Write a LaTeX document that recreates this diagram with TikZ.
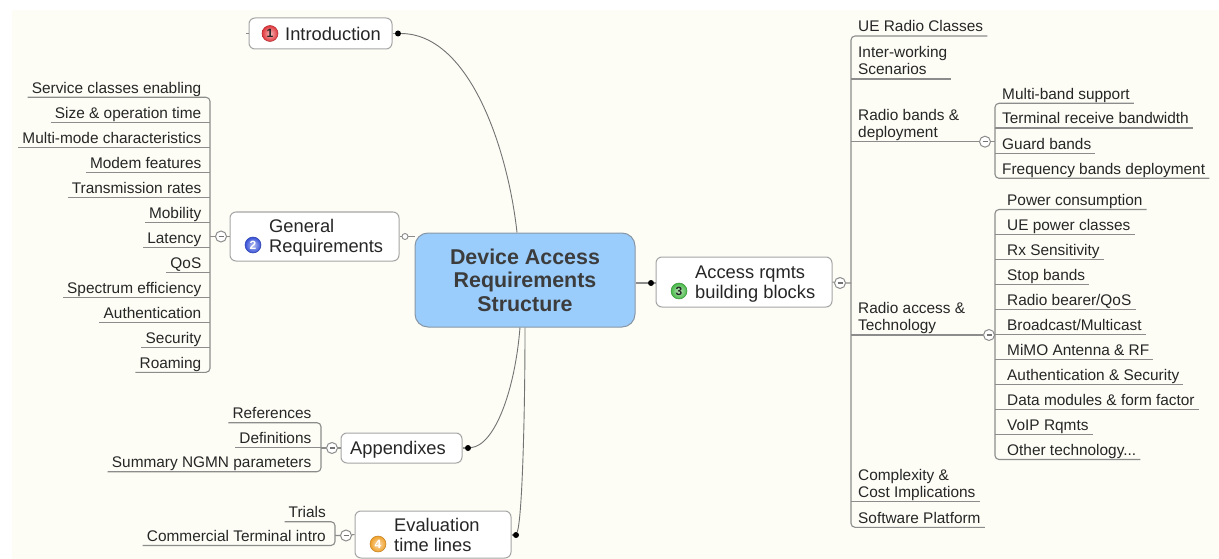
\documentclass[tikz,border=0pt]{standalone}
\usepackage{fontspec}
\setmainfont{Liberation Sans}
\definecolor{paper}{RGB}{253,253,246}
\definecolor{rootblue}{RGB}{155,205,252}
\definecolor{rootedge}{RGB}{135,150,165}
\definecolor{boxgray}{RGB}{165,165,165}
\definecolor{linegray}{RGB}{140,140,140}
\definecolor{curvegray}{RGB}{115,115,115}
\definecolor{textgray}{RGB}{38,38,38}
\definecolor{roottext}{RGB}{60,60,60}
\definecolor{iconred}{RGB}{225,55,60}
\definecolor{iconblue}{RGB}{55,80,215}
\definecolor{icongreen}{RGB}{70,185,70}
\definecolor{iconorange}{RGB}{240,160,40}

\tikzset{
  root/.style={draw=rootedge, fill=rootblue, line width=1pt, rounded corners=13pt, minimum width=220pt, minimum height=94pt, align=center, text=roottext, font=\fontsize{21.4}{23.5}\selectfont\bfseries},
  topic/.style={draw=boxgray, fill=white, line width=1pt, rounded corners=6pt},
  toptext/.style={inner sep=0pt, text depth=4pt, align=left, text=textgray, font=\fontsize{18.3}{20}\selectfont},
  item/.style={inner xsep=4pt, inner ysep=0pt, text depth=4pt, align=left, text=textgray, font=\fontsize{15.4}{17}\selectfont},
  branch/.style={draw=linegray, line width=1.1pt},
  curve/.style={draw=curvegray, line width=0.9pt},
  knob/.style={circle, fill=black, minimum size=6pt, inner sep=0pt},
  opendot/.style={circle, draw=linegray, fill=white, line width=0.9pt, minimum size=6pt, inner sep=0pt},
  fold/.style={circle, draw=linegray, fill=white, line width=1pt, minimum size=11pt, inner sep=0pt,
    path picture={\draw[black!55, line width=1.3pt] ([xshift=-2.5pt]path picture bounding box.center) -- ([xshift=2.5pt]path picture bounding box.center);}},
  numicon/.style={circle, shading=radial, inner color=#1!35!white, outer color=#1, draw=#1!80!black, line width=0.5pt, minimum size=16pt, inner sep=0pt, font=\fontsize{12}{12}\selectfont\bfseries}
}

\begin{document}
\begin{tikzpicture}[x=1pt, y=-1pt]
\fill[white] (0,0) rectangle (1219,559);
\fill[paper] (12,10) rectangle (1219,559);
\useasboundingbox (0,0) rectangle (1219,559);

% central topic
\node[root] (root) at (525,280) {Device Access\\Requirements\\Structure};

% main topics
\node[topic, minimum width=143pt, minimum height=31pt] (intro) at (320.5,33.5) {};
\node[toptext, anchor=south west] (introtxt) at (285,44.7) {Introduction};
\node[numicon=iconred, text=black!85] (n1) at (270,33.5) {1};
\node[topic, minimum width=169pt, minimum height=49pt] (gr) at (314.5,236.5) {};
\node[toptext, anchor=south west] (grtxt) at (269,256.3) {General\\Requirements};
\node[numicon=iconblue, text=white] (n2) at (253,245) {2};
\node[topic, minimum width=176pt, minimum height=50pt] (access) at (744,282) {};
\node[toptext, anchor=south west] (accesstxt) at (695,302.3) {Access rqmts\\building blocks};
\node[numicon=icongreen, text=black!85] (n3) at (679,291) {3};
\node[topic, minimum width=121pt, minimum height=30pt] (app) at (401.5,448) {};
\node[toptext, anchor=south west] (apptxt) at (350,458.3) {Appendixes};
\node[topic, minimum width=156pt, minimum height=47pt] (eval) at (433,534.5) {};
\node[toptext, anchor=south west] (evaltxt) at (394,555.7) {Evaluation\\time lines};
\node[numicon=iconorange, text=white] (n4) at (378,544) {4};

% joints
\node[knob] (k1) at (398,33.5) {};
\node[knob] (k3) at (651,283) {};
\node[knob] (kapp) at (468,448) {};
\node[knob] (keval) at (516,535) {};
\node[opendot] (kgr) at (405,236.5) {};

\draw[branch] (intro.east) -- (k1);
\draw[branch] (intro.west) -- ++(-3,0);
\draw[curve] (k1) .. controls (470,34) and (508,150) .. ([xshift=-8pt]root.north);
\draw[branch] (gr.east) -- (kgr) -- (kgr -| root.west);
\draw[branch] (root.east |- k3) -- (k3) -- (k3 -| access.west);
\draw[branch] (app.east) -- (kapp);
\draw[curve] (kapp) .. controls (495,445) and (515,390) .. ([xshift=-5pt]root.south);
\draw[branch] (eval.east |- keval) -- (keval);
\draw[curve] (keval) .. controls (522,520) and (525,420) .. (root.south);

% bracket lines
\coordinate (grbar) at (210,0);
\coordinate (appbar) at (321,0);
\coordinate (evbar) at (335,0);
\coordinate (acbar) at (851,0);
\coordinate (subbar) at (995,0);

% general requirements
\node[fold] (fgr) at (221,236.5) {};
\draw[branch] (gr.west) -- (fgr) -- (fgr -| grbar);
\node[item, anchor=south east] (gr1) at (205.5,97.3) {Service classes enabling};
\node[item, anchor=south east] (gr2) at (205.5,122.3) {Size \& operation time};
\node[item, anchor=south east] (gr3) at (205.5,147.3) {Multi-mode characteristics};
\node[item, anchor=south east] (gr4) at (205.5,172.3) {Modem features};
\node[item, anchor=south east] (gr5) at (205.5,197.3) {Transmission rates};
\node[item, anchor=south east] (gr6) at (205.5,222.3) {Mobility};
\node[item, anchor=south east] (gr7) at (205.5,247.3) {Latency};
\node[item, anchor=south east] (gr8) at (205.5,272.3) {QoS};
\node[item, anchor=south east] (gr9) at (205.5,297.3) {Spectrum efficiency};
\node[item, anchor=south east] (gr10) at (205.5,322.3) {Authentication};
\node[item, anchor=south east] (gr11) at (205.5,347.3) {Security};
\node[item, anchor=south east] (gr12) at (205.5,372.3) {Roaming};
\draw[branch, rounded corners=4pt] (gr1.south west) -- (gr1.south -| grbar) -- (gr12.south -| grbar) -- (gr12.south west);
\foreach \i in {2,...,11} \draw[branch] (gr\i.south west) -- (gr\i.south -| grbar);

% appendixes
\node[fold] (fapp) at (332,448) {};
\draw[branch] (app.west) -- (fapp) -- (fapp -| appbar);
\node[item, anchor=south east] (ap1) at (315.5,422.7) {References};
\node[item, anchor=south east] (ap2) at (315.5,447.7) {Definitions};
\node[item, anchor=south east] (ap3) at (315.5,471.7) {Summary NGMN parameters};
\draw[branch, rounded corners=4pt] (ap1.south west) -- (ap1.south -| appbar) -- (ap3.south -| appbar) -- (ap3.south west);
\draw[branch] (ap2.south west) -- (ap2.south -| appbar);

% evaluation
\node[fold] (feval) at (346,535.5) {};
\draw[branch] (eval.west) -- (feval) -- (feval -| evbar);
\node[item, anchor=south east] (ev1) at (330,521.7) {Trials};
\node[item, anchor=south east] (ev2) at (330,545.5) {Commercial Terminal intro};
\draw[branch, rounded corners=4pt] (ev1.south west) -- (ev1.south -| evbar) -- (ev2.south -| evbar) -- (ev2.south west);

% access building blocks
\node[fold] (facc) at (840,283) {};
\draw[branch] (access.east) -- (facc) -- (facc -| acbar);
\node[item, anchor=south west] (ue) at (854,36) {UE Radio Classes};
\node[item, anchor=south west] (iw) at (854,79) {Inter-working\\Scenarios};
\node[item, anchor=south west] (band) at (854,141.7) {Radio bands \&\\deployment};
\node[item, anchor=south west] (rat) at (854,335) {Radio access \&\\Technology};
\node[item, anchor=south west] (cx) at (854,501.7) {Complexity \&\\Cost Implications};
\node[item, anchor=south west] (sw) at (854,527.3) {Software Platform};
\draw[branch, rounded corners=4pt] (ue.south east) -- (ue.south -| acbar) -- (sw.south -| acbar) -- (sw.south east);
\draw[branch] (iw.south -| acbar) -- (iw.south east);
\draw[branch] (cx.south -| acbar) -- (cx.south east);

% radio bands
\node[fold] (fband) at (985,141.7) {};
\draw[branch] (band.south -| acbar) -- (fband) -- (fband -| subbar);
\node[item, anchor=south west] (b1) at (998,103.3) {Multi-band support};
\node[item, anchor=south west] (b2) at (998,128) {Terminal receive bandwidth};
\node[item, anchor=south west] (b3) at (998,153.3) {Guard bands};
\node[item, anchor=south west] (b4) at (998,178.3) {Frequency bands deployment};
\draw[branch, rounded corners=4pt] (b1.south east) -- (b1.south -| subbar) -- (b4.south -| subbar) -- (b4.south east);
\foreach \i in {2,3} \draw[branch] (b\i.south -| subbar) -- (b\i.south east);

% radio access
\node[fold] (frat) at (989,335) {};
\draw[branch] (rat.south -| acbar) -- (frat) -- (frat -| subbar);
\node[item, anchor=south west] (r1) at (1003,209.5) {Power consumption};
\node[item, anchor=south west] (r2) at (1003,234.5) {UE power classes};
\node[item, anchor=south west] (r3) at (1003,259.5) {Rx Sensitivity};
\node[item, anchor=south west] (r4) at (1003,284.5) {Stop bands};
\node[item, anchor=south west] (r5) at (1003,309.5) {Radio bearer/QoS};
\node[item, anchor=south west] (r6) at (1003,334.5) {Broadcast/Multicast};
\node[item, anchor=south west] (r7) at (1003,359.5) {MiMO Antenna \& RF};
\node[item, anchor=south west] (r8) at (1003,384.5) {Authentication \& Security};
\node[item, anchor=south west] (r9) at (1003,409.5) {Data modules \& form factor};
\node[item, anchor=south west] (r10) at (1003,434.5) {VoIP Rqmts};
\node[item, anchor=south west] (r11) at (1003,459.5) {Other technology...};
\draw[branch, rounded corners=4pt] (r1.south east) -- (r1.south -| subbar) -- (r11.south -| subbar) -- (r11.south east);
\foreach \i in {2,...,10} \draw[branch] (r\i.south -| subbar) -- (r\i.south east);
\end{tikzpicture}
\end{document}
